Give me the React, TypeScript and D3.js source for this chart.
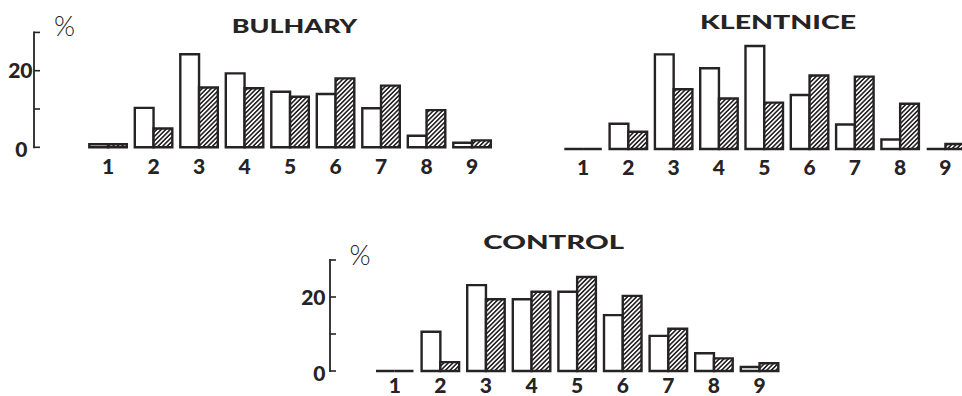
import React from "react";
import * as d3 from "d3";

// ---- data ----
const categories = ["1", "2", "3", "4", "5", "6", "7", "8", "9"];
const bulharyOpen = [0.8, 10.3, 24.3, 19.3, 14.5, 13.9, 10.2, 3.0, 1.2];
const bulharyHatched = [0.8, 4.9, 15.6, 15.4, 13.2, 18.0, 16.1, 9.7, 1.8];
const klentniceOpen = [0, 6.6, 24.7, 21.1, 26.9, 14.1, 6.4, 2.5, 0];
const klentniceHatched = [0, 4.5, 15.6, 13.2, 12.1, 19.2, 18.9, 11.8, 1.3];
const controlOpen = [0, 10.6, 23.2, 19.4, 21.4, 15.1, 9.5, 4.8, 1.1];
const controlHatched = [0, 2.4, 19.4, 21.4, 25.4, 20.3, 11.4, 3.4, 2.1];
const yTicks = [0, 10, 20, 30];
const yTickLabels = ["0", "20"];
const titles = ["BULHARY", "KLENTNICE", "CONTROL"];
const seriesKeys = ["open", "hatched"];

const INK = "#262324";
const FONT = "Lato, 'Open Sans', 'DejaVu Sans', sans-serif";

type Panel = {
  title: string;
  open: number[];
  hatched: number[];
  x0: number;
  step: number;
  bw: number;
  base: number;
  pxPer: number;
  axisX: number | null;
  titleX: number;
  titleY: number;
  titleW: number;
  labelY: number;
  pct: [number, number] | null;
  zeroLabelEnd: number;
  twentyLabelEnd: number;
};

const panels: Panel[] = [
  {
    title: titles[0], open: bulharyOpen, hatched: bulharyHatched,
    x0: 89.3, step: 45.5, bw: 37.5, base: 147.3, pxPer: 3.83, axisX: 34,
    titleX: 231.7, titleY: 33.3, titleW: 125.6, labelY: 174, pct: [64.5, 36],
    zeroLabelEnd: 27.5, twentyLabelEnd: 32.5,
  },
  {
    title: titles[1], open: klentniceOpen, hatched: klentniceHatched,
    x0: 564.3, step: 45.3, bw: 37.5, base: 149, pxPer: 3.83, axisX: null,
    titleX: 700, titleY: 28.7, titleW: 156, labelY: 175, pct: null,
    zeroLabelEnd: 0, twentyLabelEnd: 0,
  },
  {
    title: titles[2], open: controlOpen, hatched: controlHatched,
    x0: 376, step: 45.6, bw: 37.5, base: 371, pxPer: 3.7, axisX: 330,
    titleX: 483.3, titleY: 249.3, titleW: 140.7, labelY: 393, pct: [360, 265],
    zeroLabelEnd: 325.5, twentyLabelEnd: 325.5,
  },
];

function outline(x: number, y0: number, y1: number, w: number) {
  return `M${x},${y0}V${y1}H${x + w}V${y0}Z`;
}

function Digit({ x, y, anchor, children }: { x: number; y: number; anchor: "middle" | "end"; children: string }) {
  return (
    <text
      x={x}
      y={y}
      textAnchor={anchor}
      fontFamily={FONT}
      fontWeight={900}
      fontSize={21}
      fill={INK}
    >
      {children}
    </text>
  );
}

function PanelView({ p }: { p: Panel }) {
  const xEnd = p.x0 + (categories.length - 1) * p.step + p.bw;
  const x = d3
    .scaleBand<string>()
    .domain(categories)
    .range([p.x0, xEnd])
    .paddingInner((p.step - p.bw) / p.step)
    .paddingOuter(0);
  const inner = d3.scaleBand<string>().domain(seriesKeys).range([0, x.bandwidth()]).padding(0);
  const y = d3.scaleLinear().domain([0, 30]).range([p.base, p.base - 30 * p.pxPer]);

  return (
    <g>
      <text
        x={p.titleX}
        y={p.titleY}
        textLength={p.titleW}
        lengthAdjust="spacingAndGlyphs"
        fontFamily={FONT}
        fontWeight={900}
        fontSize={18.5}
        fill={INK}
      >
        {p.title}
      </text>
      {categories.map((c, i) => {
        const gx = x(c)!;
        return (
          <g key={c}>
            <path
              d={outline(gx + inner("open")!, y(0), y(p.open[i]), inner.bandwidth())}
              fill="#fff"
              stroke={INK}
              strokeWidth={2.4}
            />
            <path
              d={outline(gx + inner("hatched")!, y(0), y(p.hatched[i]), inner.bandwidth())}
              fill="url(#hatch)"
              stroke={INK}
              strokeWidth={2.4}
            />
            <Digit x={gx + x.bandwidth() / 2} y={p.labelY} anchor="middle">
              {c}
            </Digit>
          </g>
        );
      })}
      {p.axisX !== null && (
        <g>
          <line x1={p.axisX} x2={p.axisX} y1={y(0) + 1} y2={y(30) - 1} stroke={INK} strokeWidth={1.8} />
          {yTicks.map((t) => (
            <line key={t} x1={p.axisX!} x2={p.axisX! + 6} y1={y(t)} y2={y(t)} stroke={INK} strokeWidth={1.6} />
          ))}
          <Digit x={p.twentyLabelEnd} y={y(20) + 7.5} anchor="end">
            {yTickLabels[1]}
          </Digit>
          <Digit x={p.zeroLabelEnd} y={y(0) + 10} anchor="end">
            {yTickLabels[0]}
          </Digit>
        </g>
      )}
      {p.pct && (
        <text
          x={p.pct[0]}
          y={p.pct[1]}
          textAnchor="middle"
          fontFamily={FONT}
          fontWeight={300}
          fontSize={27}
          fill={INK}
        >
          %
        </text>
      )}
    </g>
  );
}

export default function App() {
  return (
    <svg
      width={962}
      height={396}
      viewBox="0 0 962 396"
      style={{ position: "absolute", left: 0, top: 0, display: "block", background: "#fff" }}
    >
      <defs>
        <pattern
          id="hatch"
          patternUnits="userSpaceOnUse"
          width={3.2}
          height={3.2}
          patternTransform="rotate(45)"
        >
          <rect width={3.2} height={3.2} fill="#fff" />
          <line x1={0.8} y1={0} x2={0.8} y2={3.2} stroke={INK} strokeWidth={1.6} />
        </pattern>
      </defs>
      <rect width={962} height={396} fill="#fff" />
      {panels.map((p) => (
        <PanelView key={p.title} p={p} />
      ))}
    </svg>
  );
}
